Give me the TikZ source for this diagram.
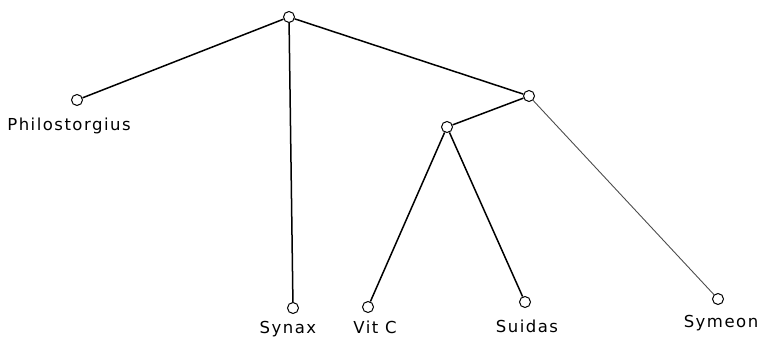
\documentclass[tikz,border=0pt]{standalone}
\usepackage{fontspec}
\setmainfont{DejaVu Sans}[LetterSpace=9]
\begin{document}
\begin{tikzpicture}[x=1pt,y=1pt,
  vtx/.style={circle,draw,fill=white,line width=1pt,minimum size=11pt,inner sep=0pt},
  edge/.style={line width=1.5pt},
  thin edge/.style={line width=0.9pt,black!70},
  lbl/.style={font=\fontsize{16.5}{18}\selectfont,inner sep=0pt}]
\useasboundingbox (0,0) rectangle (762,337);
\node[vtx] (r) at (289,320) {};
\node[vtx] (p) at (77,237) {};
\node[vtx] (sy) at (293,29) {};
\node[vtx] (a) at (529,241) {};
\node[vtx] (b) at (447,210) {};
\node[vtx] (v) at (368,30) {};
\node[vtx] (su) at (525,35) {};
\node[vtx] (sm) at (718,38) {};
\draw[edge] (r) -- (p);
\draw[edge] (r) -- (sy);
\draw[edge] (r) -- (a);
\draw[edge] (a) -- (b);
\draw[edge] (b) -- (v);
\draw[edge] (b) -- (su);
\draw[thin edge] (a) -- (sm);
\node[lbl] (pl) at (69,211) {Philostorgius};
\node[lbl] (syl) at (288,8) {Synax};
\node[lbl] (vl) at (375,10) {Vit C};
\node[lbl] (sul) at (527,11) {Suidas};
\node[lbl] (sml) at (721,14) {Symeon};
\end{tikzpicture}
\end{document}
